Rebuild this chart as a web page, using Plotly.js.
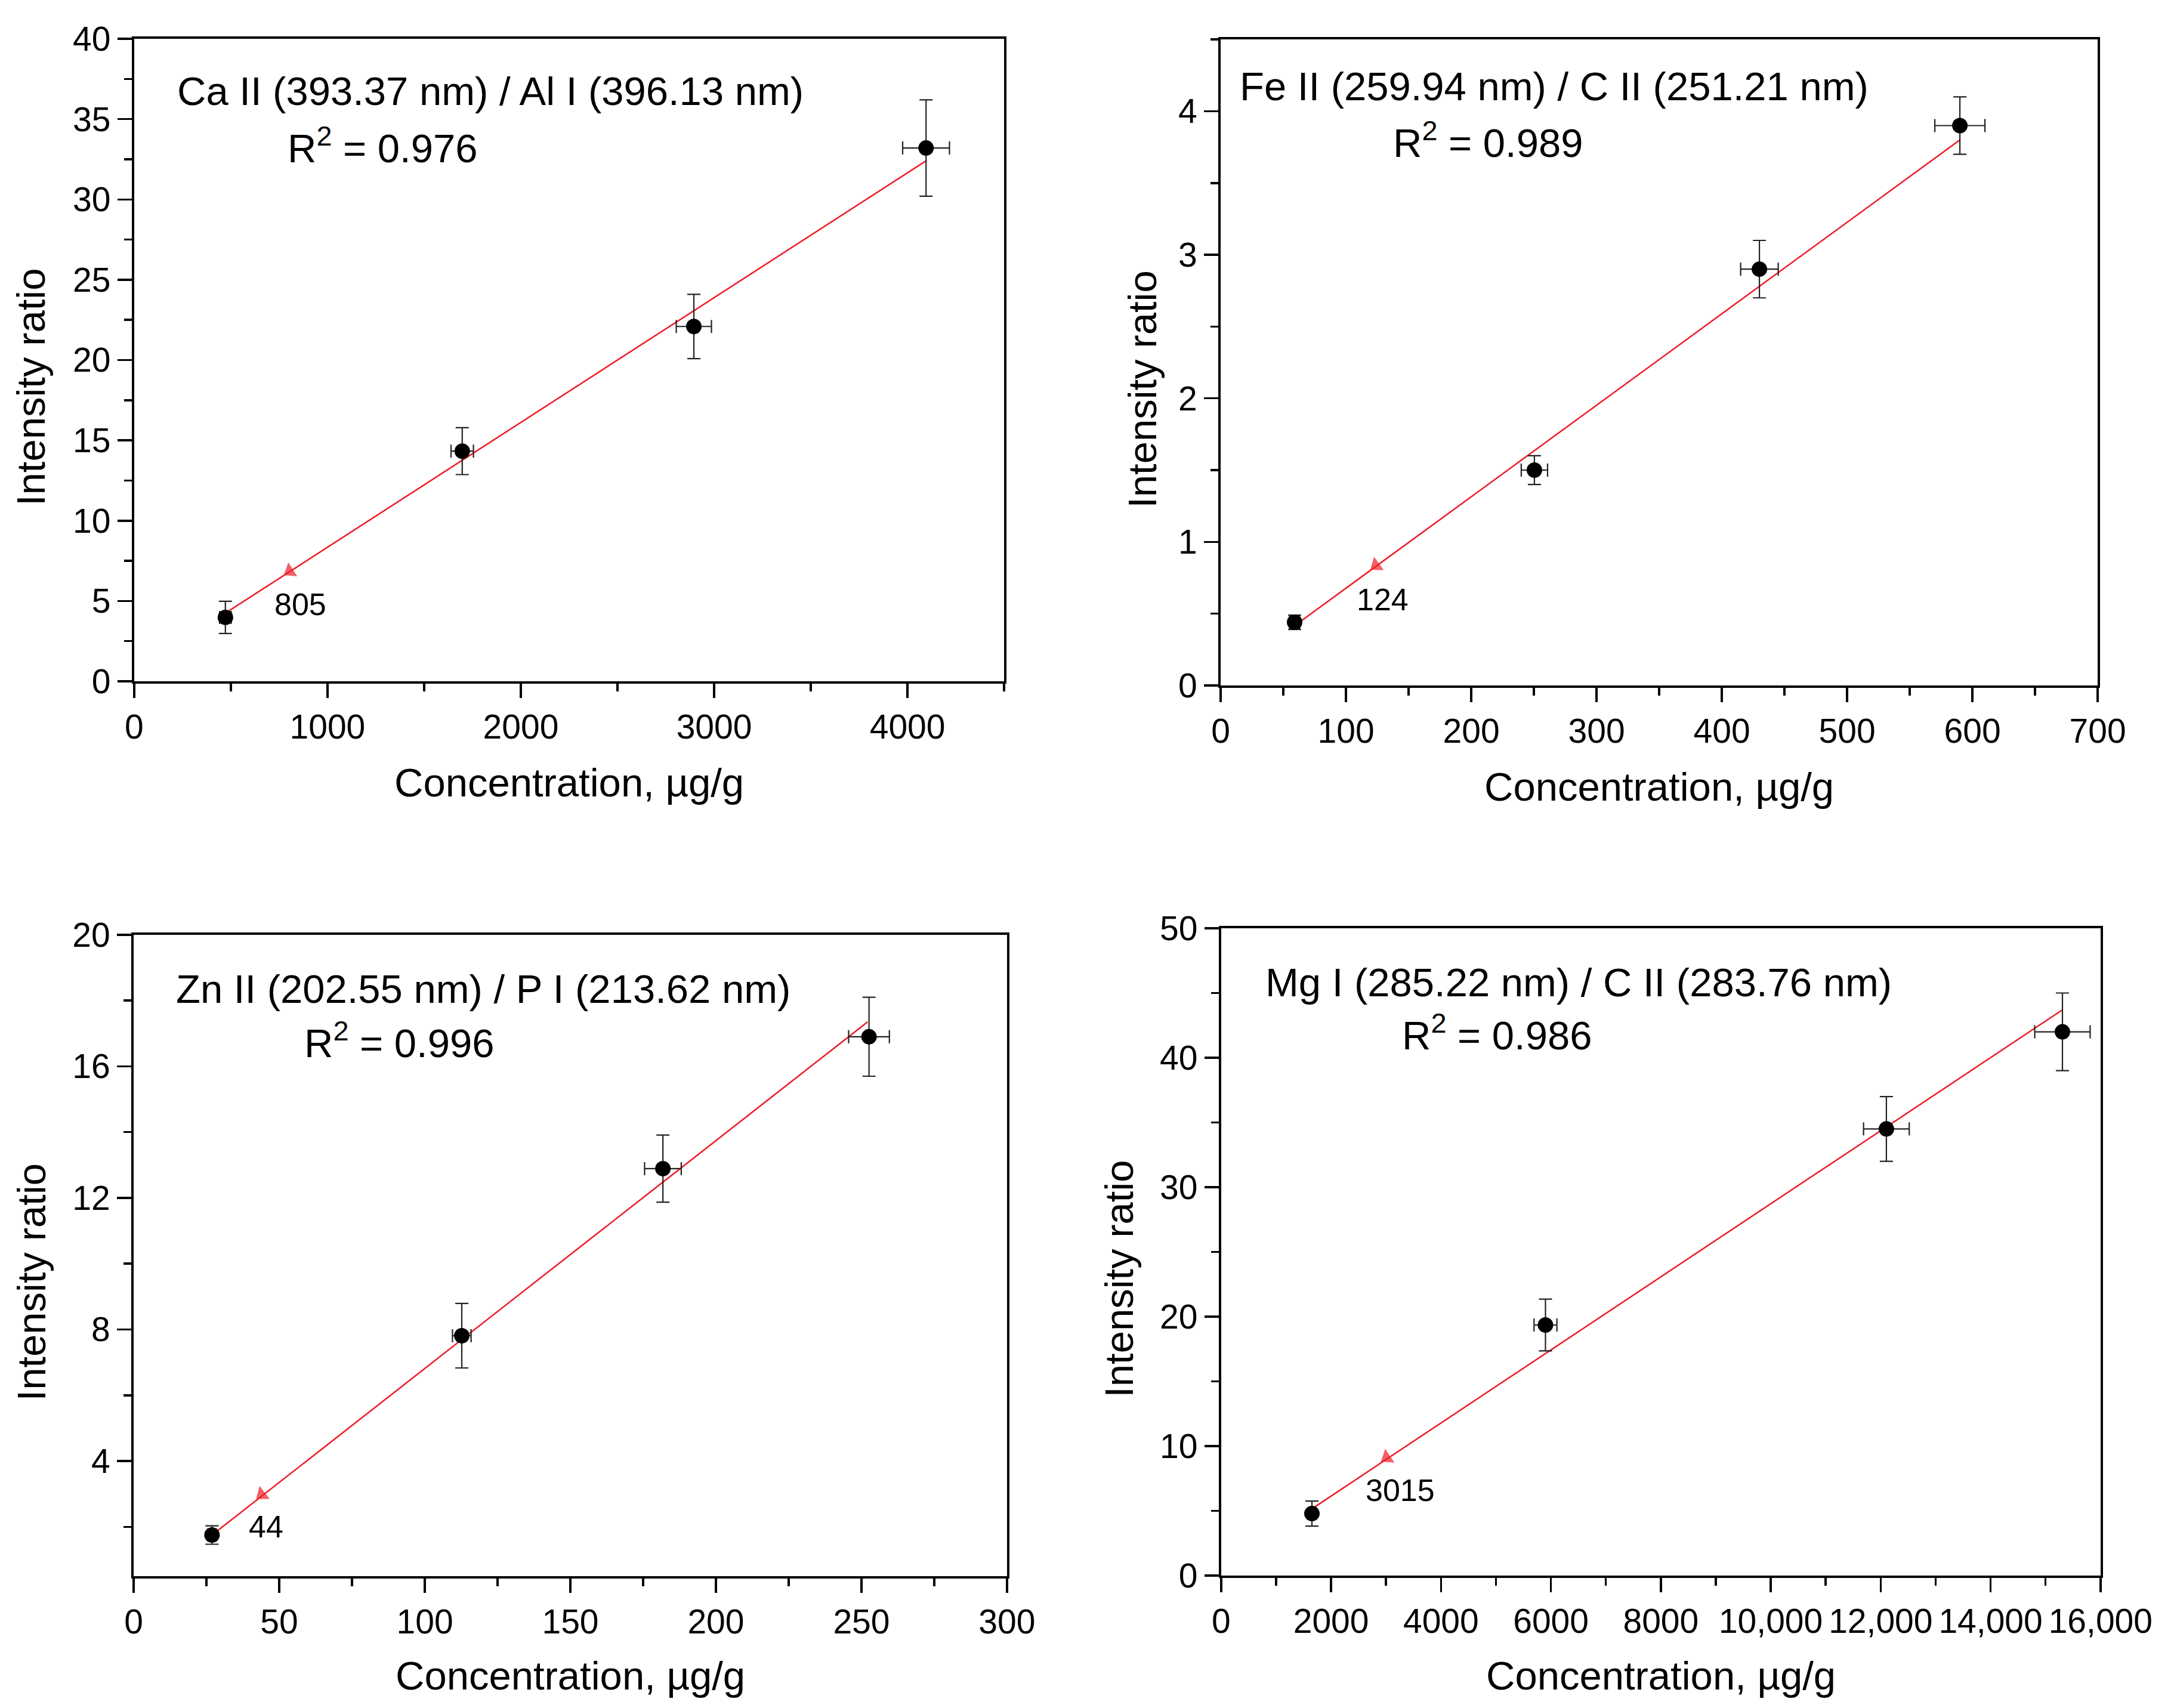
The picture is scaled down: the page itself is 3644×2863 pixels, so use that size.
<!DOCTYPE html>
<html>
<head>
<meta charset="utf-8">
<script src="https://cdn.plot.ly/plotly-3.0.1.min.js"></script>
<style>
  html, body { margin: 0; padding: 0; background: #fff; }
  #plot { width: 3644px; height: 2863px; }
</style>
</head>
<body>
<div id="plot"></div>
<script>
// values
const caConc = [472, 1697, 2895, 4096]
const caConcErr = [30, 58, 91, 121]
const caRatio = [3.98, 14.33, 22.09, 33.2]
const caRatioErr = [1.0, 1.46, 2.0, 3.0]
const caFitX = [479, 4096]
const caFitY = [4.3, 32.4]
const caLodX = [805]
const caLodY = [6.85]

const feConc = [59, 250.4, 430, 590]
const feConcErr = [4, 10.5, 15, 20]
const feRatio = [0.44, 1.5, 2.9, 3.9]
const feRatioErr = [0.05, 0.1, 0.2, 0.2]
const feFitX = [59, 590]
const feFitY = [0.416, 3.8]
const feLodX = [124]
const feLodY = [0.835]

const znConc = [26.9, 112.7, 181.8, 252.6]
const znConcErr = [1.5, 3.2, 6.3, 7]
const znRatio = [1.75, 7.81, 12.89, 16.9]
const znRatioErr = [0.28, 0.98, 1.02, 1.2]
const znFitX = [26.9, 252.1]
const znFitY = [1.75, 17.35]
const znLodX = [44]
const znLodY = [2.98]

const mgConc = [1652, 5901, 12104, 15307]
const mgConcErr = [60, 208, 416, 504]
const mgRatio = [4.78, 19.35, 34.5, 42.0]
const mgRatioErr = [0.97, 2.0, 2.5, 3.0]
const mgFitX = [1652, 15307]
const mgFitY = [5.15, 43.7]
const mgLodX = [3015]
const mgLodY = [9.1]

const mgTickVals = [0, 2000, 4000, 6000, 8000, 10000, 12000, 14000, 16000]
const mgTickText = ['0', '2000', '4000', '6000', '8000', '10,000', '12,000', '14,000', '16,000']

const lineLabels = [
  'Ca II (393.37 nm) / Al I (396.13 nm)',
  'Fe II (259.94 nm) / C II (251.21 nm)',
  'Zn II (202.55 nm) / P I (213.62 nm)',
  'Mg I (285.22 nm) / C II (283.76 nm)'
]
const rSquared = ['0.976', '0.989', '0.996', '0.986']

const FONT = 'Liberation Sans, Arial, sans-serif'
const RED = '#ee1c25'

function panelTraces (n, x, xe, y, ye, fx, fy, lx, ly) {
  const xa = n === 1 ? 'x' : 'x' + n
  const ya = n === 1 ? 'y' : 'y' + n
  return [{
    x: fx, y: fy, xaxis: xa, yaxis: ya,
    type: 'scatter', mode: 'lines',
    line: { color: RED, width: 2.5 },
    hoverinfo: 'skip'
  }, {
    // arrow head on the fit line, pointing back toward the low end
    x: [fx[1], lx[0]], y: [fy[1], ly[0]], xaxis: xa, yaxis: ya,
    type: 'scatter', mode: 'markers',
    marker: { symbol: 'triangle-up', size: [0, 24], color: RED, angleref: 'previous', line: { width: 0 } }
  }, {
    x: x, y: y, xaxis: xa, yaxis: ya,
    type: 'scatter', mode: 'markers',
    marker: { color: '#000', size: 26 },
    error_x: { type: 'data', array: xe, visible: true, color: '#222', thickness: 2.2, width: 11 },
    error_y: { type: 'data', array: ye, visible: true, color: '#222', thickness: 2.2, width: 11 }
  }]
}

function axis (domain, anchor, range, dtick, minorDtick, extra) {
  return Object.assign({
    domain: domain, anchor: anchor, range: range,
    dtick: dtick, tick0: 0,
    showgrid: false, zeroline: false,
    showline: true, mirror: true, linecolor: '#000', linewidth: 4,
    ticks: 'outside', ticklen: 24, tickwidth: 3.5, tickcolor: '#000',
    minor: { ticks: 'outside', ticklen: 13, tickwidth: 3.5, tickcolor: '#000', dtick: minorDtick, tick0: 0, showgrid: false },
    tickfont: { family: FONT, size: 57, color: '#000' },
    fixedrange: true
  }, extra || {})
}

const data = [].concat(
  panelTraces(1, caConc, caConcErr, caRatio, caRatioErr, caFitX, caFitY, caLodX, caLodY),
  panelTraces(2, feConc, feConcErr, feRatio, feRatioErr, feFitX, feFitY, feLodX, feLodY),
  panelTraces(3, znConc, znConcErr, znRatio, znRatioErr, znFitX, znFitY, znLodX, znLodY),
  panelTraces(4, mgConc, mgConcErr, mgRatio, mgRatioErr, mgFitX, mgFitY, mgLodX, mgLodY)
)

const annotations = []
const lodX = [caLodX, feLodX, znLodX, mgLodX]
const lodLabelPos = [[719, 4.8], [107.5, 0.6], [39.1, 2.0], [2610, 6.6]]
const titleY = [-0.157, -0.157, -0.155, -0.155]
const yTitleX = [-0.119, -0.09, -0.117, -0.116]
const labelPos = [[0.048, 0.919, 0.175, 0.834], [0.02, 0.928, 0.195, 0.844], [0.047, 0.916, 0.194, 0.835], [0.049, 0.917, 0.204, 0.839]]

for (let i = 0; i < 4; i++) {
  const xs = i === 0 ? 'x' : 'x' + (i + 1)
  const ys = i === 0 ? 'y' : 'y' + (i + 1)
  const p = labelPos[i]
  annotations.push({
    xref: xs + ' domain', yref: ys + ' domain', x: p[0], y: p[1],
    xanchor: 'left', yanchor: 'middle', showarrow: false,
    text: lineLabels[i], font: { family: FONT, size: 67, color: '#000' }
  })
  annotations.push({
    xref: xs + ' domain', yref: ys + ' domain', x: p[2], y: p[3],
    xanchor: 'left', yanchor: 'middle', showarrow: false,
    text: 'R<sup>2</sup> = ' + rSquared[i], font: { family: FONT, size: 67, color: '#000' }
  })
  annotations.push({
    xref: xs, yref: ys, x: lodLabelPos[i][0], y: lodLabelPos[i][1],
    xanchor: 'left', yanchor: 'middle', showarrow: false,
    text: String(lodX[i][0]), font: { family: FONT, size: 52, color: '#000' }
  })
  annotations.push({
    xref: xs + ' domain', yref: ys + ' domain', x: 0.5, y: titleY[i],
    xanchor: 'center', yanchor: 'middle', showarrow: false,
    text: 'Concentration, µg/g', font: { family: FONT, size: 67, color: '#000' }
  })
  annotations.push({
    xref: xs + ' domain', yref: ys + ' domain', x: yTitleX[i], y: 0.458,
    xanchor: 'center', yanchor: 'middle', showarrow: false, textangle: -90,
    text: 'Intensity ratio', font: { family: FONT, size: 67, color: '#000' }
  })
}

const layout = {
  width: 3644,
  height: 2863,
  margin: { t: 0, r: 0, b: 0, l: 0 },
  paper_bgcolor: '#fff',
  plot_bgcolor: '#fff',
  showlegend: false,
  xaxis: axis([0.0617, 0.4619], 'y', [0, 4500], 1000, 500),
  yaxis: axis([0.6011, 0.9773], 'x', [0, 40], 5, 2.5),
  xaxis2: axis([0.5615, 0.9649], 'y2', [0, 700], 100, 50),
  yaxis2: axis([0.5987, 0.9769], 'x2', [0, 4.5], 1, 0.5),
  xaxis3: axis([0.0615, 0.4632], 'y3', [0, 300], 50, 25),
  yaxis3: axis([0.0772, 0.4527], 'x3', [0.5, 20], 4, 2),
  xaxis4: axis([0.5617, 0.9662], 'y4', [0, 16000], 2000, 1000, { tickmode: 'array', tickvals: mgTickVals, ticktext: mgTickText }),
  yaxis4: axis([0.0776, 0.4565], 'x4', [0, 50], 10, 5),
  annotations: annotations
}

Plotly.newPlot('plot', data, layout, { displayModeBar: false, staticPlot: true })
</script>
</body>
</html>
